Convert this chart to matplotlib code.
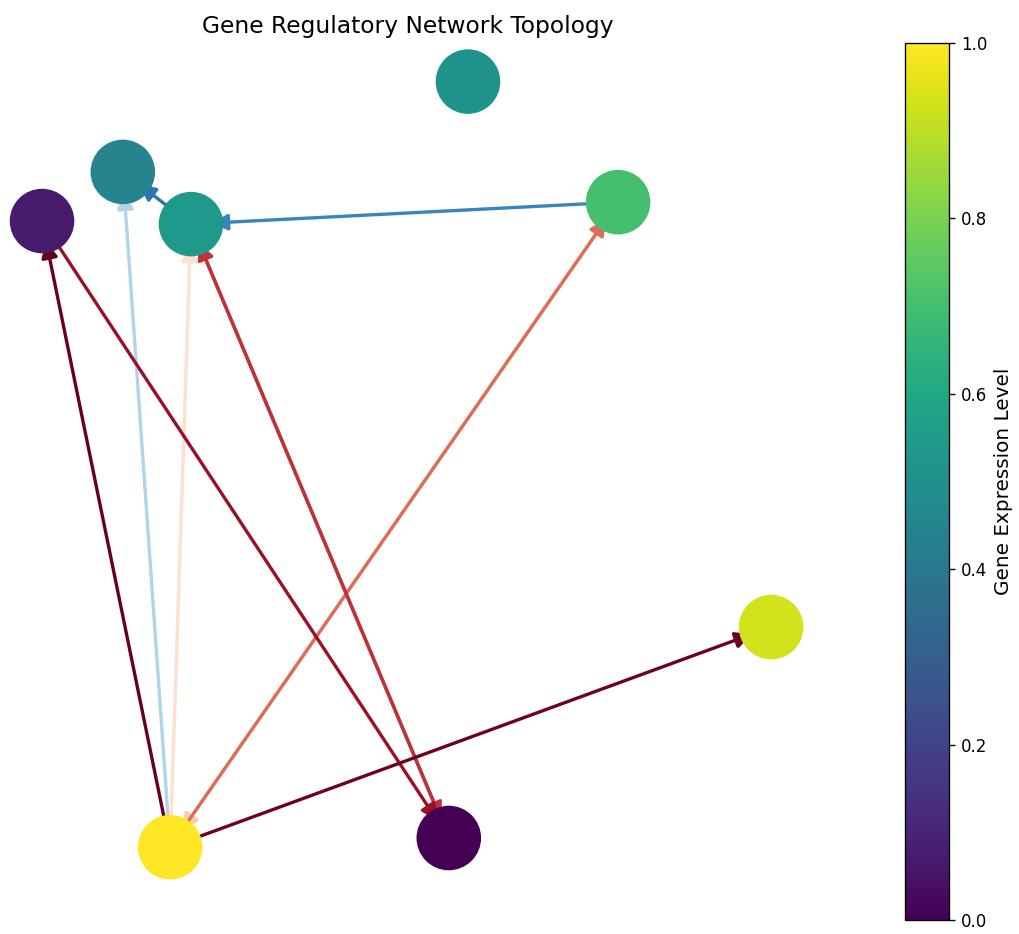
import matplotlib
matplotlib.use("Agg")
import matplotlib.pyplot as plt
from matplotlib.patches import FancyArrowPatch
from matplotlib.colors import Normalize
import numpy as np

# Node data (layout coordinates and expression levels)
node_names = ["A", "B", "C", "D", "E", "F", "G", "H"]
node_x = [0.147, -0.699, -0.897, -0.532, 0.515, 0.890, -0.583, 0.100]
node_y = [0.912, 0.706, 0.594, 0.587, 0.637, -0.332, -0.834, -0.813]
expression = [0.51, 0.45, 0.07, 0.54, 0.70, 0.93, 1.00, 0.00]

# Edge data (regulatory interactions, weight in [-1, 1])
edge_src = ["E", "G", "G", "G", "G", "D", "H", "C", "G", "E", "D"]
edge_dst = ["G", "E", "D", "B", "C", "H", "D", "H", "F", "D", "B"]
edge_weight = [0.26, 0.56, 0.16, -0.30, 1.00, 0.72, 0.72, 0.86, 0.98, -0.66, -0.74]

NODE_SIZE = 1500

fig = plt.figure(figsize=(1019 / 120, 934 / 120), dpi=120)
ax = fig.add_axes([0, 14 / 934, 816 / 1019, 877 / 934])
ax.set_xlim(-1, 1)
ax.set_ylim(-1, 1)
ax.axis("off")

pos = {n: (x, y) for n, x, y in zip(node_names, node_x, node_y)}
ecmap = plt.get_cmap("RdBu_r")
enorm = Normalize(-1, 1)
radius = np.sqrt(NODE_SIZE) / 2

for s, t, w in zip(edge_src, edge_dst, edge_weight):
    arr = FancyArrowPatch(pos[s], pos[t], arrowstyle="-|>", mutation_scale=20,
                          color=ecmap(enorm(w)), lw=2, shrinkA=radius - 3,
                          shrinkB=radius - 7, zorder=1)
    ax.add_patch(arr)

sc = ax.scatter(node_x, node_y, s=NODE_SIZE, c=expression, cmap="viridis",
                vmin=0, vmax=1, zorder=2, edgecolors="none")

ax.set_title("Gene Regulatory Network Topology", fontsize=14)

cax = fig.add_axes([905 / 1019, 14 / 934, 44 / 1019, 877 / 934])
cb = fig.colorbar(sc, cax=cax)
cb.set_label("Gene Expression Level", fontsize=12)
cb.set_ticks([0.0, 0.2, 0.4, 0.6, 0.8, 1.0])

fig.savefig("out.png", dpi=120)
